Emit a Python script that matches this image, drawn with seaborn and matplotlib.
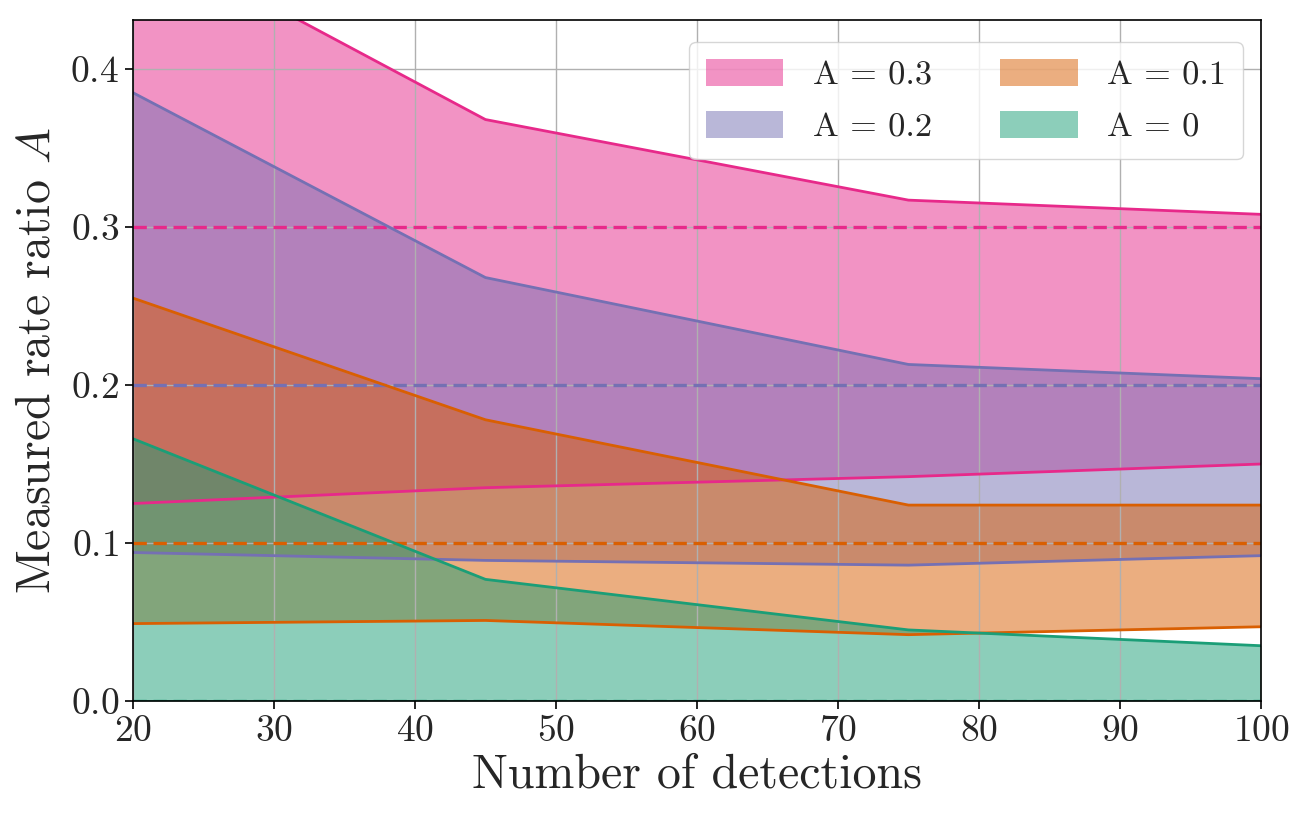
import numpy as np
import pandas as pd
import matplotlib
matplotlib.use("Agg")
import matplotlib.pyplot as plt
import seaborn as sns

# Data
detections = [20, 45, 75, 100]
labels = ["A = 0.3", "A = 0.2", "A = 0.1", "A = 0"]
true_values = [0.3, 0.2, 0.1, 0.0]
upper_03 = [0.487, 0.368, 0.317, 0.308]
lower_03 = [0.125, 0.135, 0.142, 0.150]
upper_02 = [0.385, 0.268, 0.213, 0.204]
lower_02 = [0.094, 0.089, 0.086, 0.092]
upper_01 = [0.255, 0.178, 0.124, 0.124]
lower_01 = [0.049, 0.051, 0.042, 0.047]
upper_00 = [0.166, 0.077, 0.045, 0.035]
lower_00 = [0.0, 0.0, 0.0, 0.0]

uppers = [upper_03, upper_02, upper_01, upper_00]
lowers = [lower_03, lower_02, lower_01, lower_00]
colors = ["#e7298a", "#7570b3", "#d95f02", "#1b9e77"]

sns.set_style("ticks")
plt.rcParams["font.family"] = ["cmr10", "DejaVu Serif"]
plt.rcParams["mathtext.fontset"] = "cm"
plt.rcParams["axes.formatter.use_mathtext"] = True

fig = plt.figure(figsize=(13.06, 8.23), dpi=100)
ax = fig.add_axes([0.1018, 0.1482, 0.8637, 0.8275])

rows = []
for lab, up, lo in zip(labels, uppers, lowers):
    for x, u, l in zip(detections, up, lo):
        rows.append({"n": x, "label": lab, "upper": u, "lower": l})
df = pd.DataFrame(rows)

handles = []
for lab, col, tv in zip(labels, colors, true_values):
    d = df[df["label"] == lab]
    h = ax.fill_between(d["n"], d["lower"], d["upper"], color=col, alpha=0.5,
                        linewidth=0, label=lab, zorder=1)
    handles.append(h)
    sns.lineplot(data=d, x="n", y="upper", color=col, lw=2, ax=ax, zorder=3)
    sns.lineplot(data=d, x="n", y="lower", color=col, lw=2, ax=ax, zorder=3)
    ax.axhline(tv, color=col, lw=2.4, ls=(0, (4, 2.0)), zorder=3)

ax.set_xlim(20, 100)
ax.set_ylim(0, 0.431)
ax.set_xticks(np.arange(20, 101, 10))
ax.set_yticks([0.0, 0.1, 0.2, 0.3, 0.4])
ax.grid(True, color="#b0b0b0", lw=1, zorder=2)
ax.set_axisbelow(False)
for s in ax.spines.values():
    s.set_color("black")
    s.set_linewidth(1.2)
    s.set_zorder(4)
ax.tick_params(labelsize=27, length=6, width=1.2, color="black", pad=4)
ax.set_xlabel("Number of detections", fontsize=34.5, labelpad=4)
ax.set_ylabel("Measured rate ratio $A$", fontsize=34.5, labelpad=8)

leg = ax.legend(handles=handles, labels=labels, ncol=2, fontsize=24.7,
                loc="upper right", bbox_to_anchor=(0.984, 0.9677),
                frameon=True, framealpha=0.8,
                edgecolor="#cccccc", columnspacing=2.0, handlelength=2.25,
                handleheight=0.82, handletextpad=0.85, borderpad=0.5,
                labelspacing=0.6, borderaxespad=0.0, fancybox=True)
leg.set_zorder(5)

fig.savefig("out.png", dpi=100)
